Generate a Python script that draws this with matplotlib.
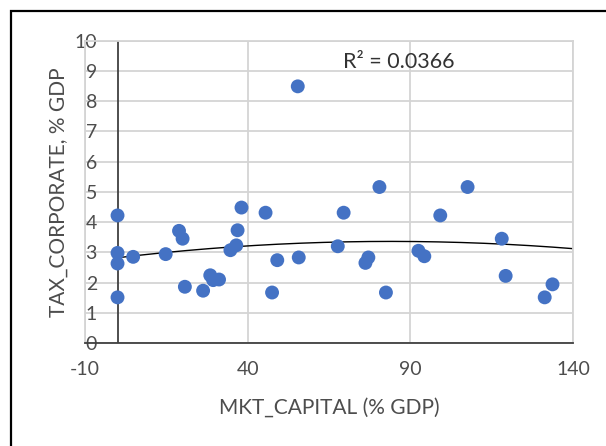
import numpy as np
import matplotlib
matplotlib.use("Agg")
import matplotlib.pyplot as plt
from matplotlib.patches import Rectangle

# ---- data ----
mkt_capital = [0.0, 0.0, 0.0, 0.0, 4.8, 14.8, 18.9, 20.0, 20.7, 26.3,
               28.5, 29.4, 31.2, 34.7, 36.5, 36.9, 38.1, 45.5, 47.5, 49.1,
               55.7, 55.4, 80.5, 107.6, 69.5, 99.2, 67.7, 77.1, 76.2, 82.5,
               92.5, 94.3, 118.1, 119.3, 133.7, 131.3]
tax_corporate = [4.22, 2.98, 2.63, 1.51, 2.85, 2.94, 3.71, 3.45, 1.86, 1.73,
                 2.24, 2.08, 2.10, 3.07, 3.23, 3.73, 4.48, 4.31, 1.67, 2.74,
                 2.83, 8.49, 5.16, 5.16, 4.31, 4.22, 3.20, 2.83, 2.65, 1.67,
                 3.05, 2.87, 3.45, 2.22, 1.94, 1.51]
# order-2 polynomial trendline as drawn in the reference (a*x^2 + b*x + c)
trend_coef = [-7.65e-5, 0.01286, 2.82]
trend_range = [0, 140]
x_ticks = [-10, 40, 90, 140]
y_ticks = list(range(0, 11))
r2_label = "R² = 0.0366"
x_title = "MKT_CAPITAL (% GDP)"
y_title = "TAX_CORPORATE, % GDP"

plt.rcParams['font.family'] = ['Lato', 'DejaVu Sans']
plt.rcParams['axes.unicode_minus'] = False

W, H = 606, 446
fig = plt.figure(figsize=(W / 100, H / 100), dpi=100)
fig.patch.set_facecolor('white')

# outer border (extends beyond right/bottom)
fig.patches.append(Rectangle((11 / W, -0.1), 1.2, 1 - 11 / H + 0.1,
                             transform=fig.transFigure, fill=False,
                             edgecolor='black', linewidth=1.6, zorder=0))

left, right, top, bottom = 85, 573, 40.7, 343
ax = fig.add_axes([left / W, 1 - bottom / H, (right - left) / W, (bottom - top) / H])
ax.set_xlim(-10, 140)
ax.set_ylim(0, 10)

grid_c = '#d4d4d4'
ax.set_xticks(x_ticks)
ax.set_yticks(y_ticks)
ax.grid(True, color=grid_c, linewidth=1.3, zorder=0)
ax.set_axisbelow(True)
for s in ['left', 'top', 'right']:
    ax.spines[s].set_color(grid_c)
    ax.spines[s].set_linewidth(1.3)
ax.spines['bottom'].set_color('#404040')
ax.spines['bottom'].set_linewidth(1.3)

# vertical value axis at x=0
ax.plot([0, 0], [0, 10], color='#404040', linewidth=1.3, zorder=1)

tick_c = '#4d4d4d'
ax.tick_params(axis='both', length=0, labelsize=14, labelcolor=tick_c)
ax.tick_params(axis='y', pad=-8.6)
ax.tick_params(axis='x', pad=13)
for lab in ax.get_yticklabels():
    lab.set_horizontalalignment('right')

ax.scatter(mkt_capital, tax_corporate, s=100, color='#4472C4', edgecolor='none', zorder=3)

xs = np.linspace(trend_range[0], trend_range[1], 200)
ax.plot(xs, np.polyval(trend_coef, xs), color='black', linewidth=1.0, zorder=2)

fig.text(399 / W, 1 - 62 / H, r2_label, ha='center', va='center',
         fontsize=15.5, color='#333333')
fig.text(329 / W, 1 - 408 / H, x_title, ha='center', va='center',
         fontsize=15, color=tick_c)
fig.text(59 / W, 1 - 192 / H, y_title, ha='center', va='center',
         rotation=90, fontsize=15, color=tick_c)

fig.savefig('out.png', dpi=100, facecolor='white')
